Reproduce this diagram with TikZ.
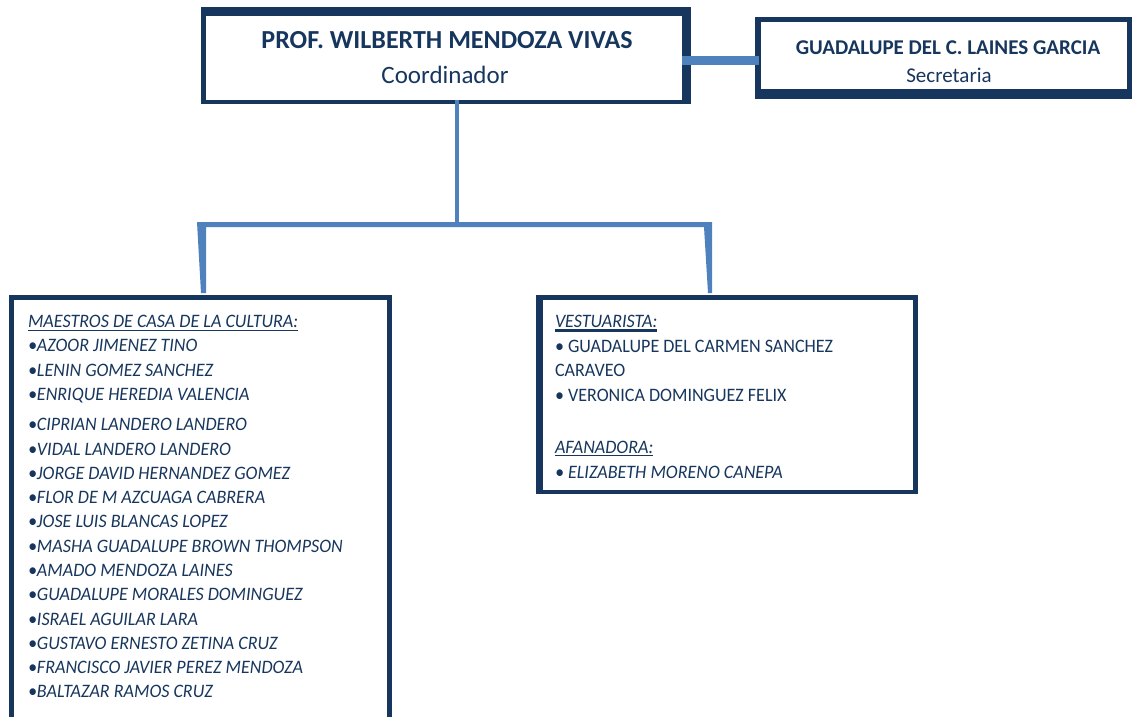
\documentclass[tikz,border=0pt]{standalone}
\usepackage{fontspec}
\setmainfont{Carlito}
\newfontfamily\listfont{Carlito}[FakeStretch=0.95]
\usetikzlibrary{calc}
\definecolor{navy}{RGB}{23,54,93}
\definecolor{lblue}{RGB}{79,129,189}
\begin{document}
\begin{tikzpicture}[x=1pt,y=-1pt,
  boxouter/.style={fill=navy,draw=none,inner sep=0pt,outer sep=0pt},
  txt/.style={inner sep=0pt,outer sep=0pt,text=navy},
  headfont/.style={font=\bfseries\fontsize{26}{30}\selectfont},
  subfont/.style={font=\fontsize{25}{30}\selectfont},
  secfont/.style={font=\bfseries\fontsize{21}{25}\selectfont},
  secsub/.style={font=\fontsize{21}{25}\selectfont},
  listit/.style={font=\listfont\itshape\fontsize{19}{23}\selectfont,anchor=base west},
  listup/.style={font=\listfont\fontsize{19}{23}\selectfont,anchor=base west},
  conn/.style={lblue},
  uline/.style={navy}]
\useasboundingbox (0,0) rectangle (1132,716);
\clip (0,0) rectangle (1132,716);
\fill[white] (0,0) rectangle (1132,716);

% boxes
\node[boxouter,minimum width=490pt,minimum height=97pt] (main) at (446,55.5) {};
\fill[white] ($(main.north west)+(5,9)$) rectangle ($(main.south east)+(-9,-4)$);
\node[boxouter,minimum width=377pt,minimum height=82pt] (sec) at (943.5,58) {};
\fill[white] ($(sec.north west)+(6,5)$) rectangle ($(sec.south east)+(-5,-10)$);
\node[boxouter,minimum width=383.5pt,minimum height=427pt] (lbox) at (200.25,508.5) {};
\fill[white] ($(lbox.north west)+(5,5)$) rectangle ($(lbox.south east)+(-5,-5)$);
\node[boxouter,minimum width=382pt,minimum height=199pt] (rbox) at (727,394.5) {};
\fill[white] ($(rbox.north west)+(7,5)$) rectangle ($(rbox.south east)+(-5,-4)$);

% connectors
\draw[conn,line width=9pt] ($(main.east)+(-9,5)$) -- ($(sec.west)+(4,2.5)$);
\coordinate (hub) at ($(main.south)+(11,120.5)$);
\draw[conn,line width=4.5pt] ($(main.south)+(11,-4)$) -- (hub);
\fill[conn] ($(lbox.north)+(-3.25,-73)$) -- ($(rbox.north)+(-15,-73)$)
  -- ($(rbox.north)+(-15,-2)$) -- ($(rbox.north)+(-19,-2)$)
  -- ($(rbox.north)+(-23,-68)$) -- ($(lbox.north)+(5.75,-68)$)
  -- ($(lbox.north)+(5.75,-2)$) -- ($(lbox.north)+(0.75,-2)$) -- cycle;

% main texts
\node[txt,headfont,anchor=base] (mt) at (447,48) {PROF. WILBERTH MENDOZA VIVAS};
\node[txt,subfont,anchor=base] (ms) at (445,83) {Coordinador};
\node[txt,secfont,anchor=base] (st) at (948,54) {GUADALUPE DEL C. LAINES GARCIA};
\node[txt,secsub,anchor=base] (ss) at (949,82) {Secretaria};

% left list
\node[txt,listit] (lh) at (28,327) {MAESTROS DE CASA DE LA CULTURA:};
\draw[uline,line width=1pt] ($(lh.base west)+(0,3)$) -- ($(lh.base east)+(0,3)$);
\foreach \yy/\tt [count=\i] in {
  351.7/AZOOR JIMENEZ TINO,
  376/LENIN GOMEZ SANCHEZ,
  400.5/ENRIQUE HEREDIA VALENCIA,
  430/CIPRIAN LANDERO LANDERO,
  455/VIDAL LANDERO LANDERO,
  479/JORGE DAVID HERNANDEZ GOMEZ,
  503/FLOR DE M AZCUAGA CABRERA,
  527.5/JOSE LUIS BLANCAS LOPEZ,
  552/MASHA GUADALUPE BROWN THOMPSON,
  576.5/AMADO MENDOZA LAINES,
  600.5/GUADALUPE MORALES DOMINGUEZ,
  625/ISRAEL AGUILAR LARA,
  649.5/GUSTAVO ERNESTO ZETINA CRUZ,
  673.5/FRANCISCO JAVIER PEREZ MENDOZA,
  697.5/BALTAZAR RAMOS CRUZ}
  \node[txt,listit] (li\i) at (28,\yy) {•\tt};

% right list
\node[txt,listit] (rh1) at (555,327) {VESTUARISTA:};
\draw[uline,line width=3pt] ($(rh1.base west)+(0,3.5)$) -- ($(rh1.base east)+(0,3.5)$);
\node[txt,listup] (r1) at (555,352) {• GUADALUPE DEL CARMEN SANCHEZ};
\node[txt,listup] (r2) at (555,376.5) {CARAVEO};
\node[txt,listup] (r3) at (555,401) {• VERONICA DOMINGUEZ FELIX};
\node[txt,listit] (rh2) at (555,453) {AFANADORA:};
\draw[uline,line width=1pt] ($(rh2.base west)+(0,2.5)$) -- ($(rh2.base east)+(0,2.5)$);
\node[txt,listit] (r4) at (555,478) {• ELIZABETH MORENO CANEPA};
\end{tikzpicture}
\end{document}
